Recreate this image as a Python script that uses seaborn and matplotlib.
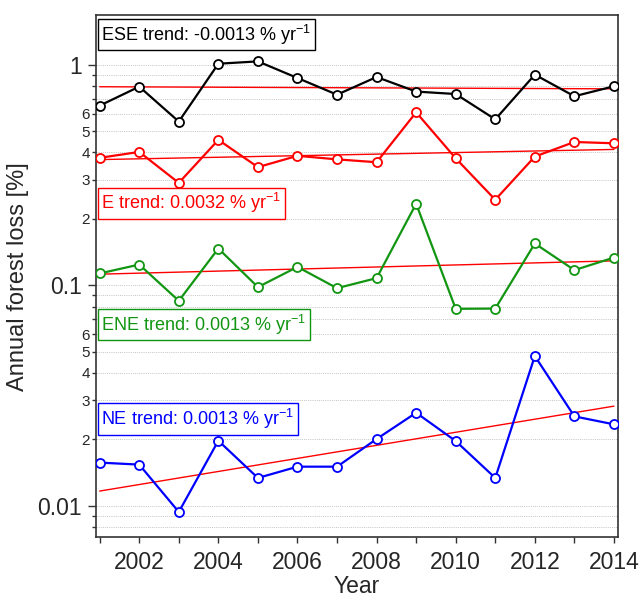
import numpy as np
import pandas as pd
import matplotlib
matplotlib.use("Agg")
import matplotlib.pyplot as plt
import matplotlib.ticker as mticker
import seaborn as sns

years = [2001, 2002, 2003, 2004, 2005, 2006, 2007, 2008, 2009, 2010, 2011, 2012, 2013, 2014]
ese = [0.652, 0.795, 0.552, 1.01, 1.035, 0.870, 0.731, 0.879, 0.755, 0.736, 0.565, 0.901, 0.719, 0.798]
e = [0.378, 0.402, 0.291, 0.456, 0.343, 0.386, 0.372, 0.361, 0.608, 0.376, 0.244, 0.383, 0.446, 0.440]
ene = [0.113, 0.124, 0.0849, 0.1466, 0.098, 0.121, 0.0969, 0.1076, 0.234, 0.0781, 0.0783, 0.1545, 0.117, 0.1334]
ne = [0.01567, 0.01535, 0.00936, 0.0197, 0.01335, 0.01502, 0.01502, 0.02005, 0.02638, 0.01963, 0.01335, 0.0477, 0.0254, 0.02337]

names = ["ESE", "E", "ENE", "NE"]
labels = ["ESE trend: -0.0013 % yr$^{-1}$", "E trend: 0.0032 % yr$^{-1}$",
          "ENE trend: 0.0013 % yr$^{-1}$", "NE trend: 0.0013 % yr$^{-1}$"]
colors = ["#000000", "#ff0000", "#129612", "#0000ff"]
label_y = [0.9625, 0.6394, 0.4077, 0.2270]

sns.set_style("ticks")
plt.rcParams["font.family"] = ["Liberation Sans", "DejaVu Sans"]
plt.rcParams["mathtext.fontset"] = "custom"
plt.rcParams["mathtext.rm"] = "Liberation Sans"
plt.rcParams["mathtext.it"] = "Liberation Sans:italic"
plt.rcParams["mathtext.default"] = "regular"

fig = plt.figure(figsize=(6.39, 6.0), dpi=100)
ax = fig.add_axes([0.1498, 0.1042, 0.8178, 0.8708])

series = [ese, e, ene, ne]
for name, vals, col, lab, ly in zip(names, series, colors, labels, label_y):
    df = pd.DataFrame({"Year": years, "loss": vals})
    # trend (linear fit, drawn between end years)
    coef = np.polyfit(years, vals, 1)
    ends = [years[0], years[-1]]
    tdf = pd.DataFrame({"Year": ends, "loss": np.polyval(coef, ends)})
    sns.lineplot(data=tdf, x="Year", y="loss", ax=ax, color="#ff0000", lw=1.0, zorder=2)
    sns.lineplot(data=df, x="Year", y="loss", ax=ax, color=col, lw=1.6, marker="o",
                 markersize=6.5, markerfacecolor="white", markeredgecolor=col,
                 markeredgewidth=1.3, zorder=3)
    ax.text(0.0105, ly, lab, transform=ax.transAxes, ha="left", va="center",
            fontsize=13.0, color=col,
            bbox=dict(boxstyle="square,pad=0.2", fc="white", ec=col, lw=1.0), zorder=5)

ax.set_yscale("log")
ax.set_ylim(0.00717, 1.68)
ax.set_xlim(2000.9, 2014.11)

ax.yaxis.set_major_locator(mticker.FixedLocator([0.01, 0.1, 1]))
ax.yaxis.set_major_formatter(mticker.FixedFormatter(["0.01", "0.1", "1"]))
ax.yaxis.set_minor_locator(mticker.LogLocator(base=10, subs=np.arange(2, 10), numticks=20))

def minor_fmt(v, pos):
    m = v / 10 ** np.floor(np.log10(v) + 1e-9)
    mi = int(round(m))
    return str(mi) if mi in (2, 3, 4, 5, 6) else ""

ax.yaxis.set_minor_formatter(mticker.FuncFormatter(minor_fmt))

ax.xaxis.set_major_locator(mticker.MultipleLocator(2))
ax.xaxis.set_minor_locator(mticker.MultipleLocator(1))
ax.xaxis.set_major_formatter(mticker.FormatStrFormatter("%d"))

ax.grid(True, which="both", axis="y", color="#c4c4c4", ls=(0, (1, 1.2)), lw=0.7)
ax.grid(False, axis="x")

for s in ax.spines.values():
    s.set_visible(True)
    s.set_color("#333333")
    s.set_linewidth(1.2)

ax.tick_params(axis="y", which="major", length=6, width=1, labelsize=16.5, pad=4, color="#333333")
ax.tick_params(axis="y", which="minor", length=3, width=1, labelsize=11, pad=1, color="#333333")
ax.tick_params(axis="x", which="both", length=4.5, width=1, labelsize=16.5, pad=5, color="#333333")

ax.set_xlabel("Year", fontsize=16.5, labelpad=1)
ax.set_ylabel("Annual forest loss [%]", fontsize=17, labelpad=6)

fig.savefig("out.png", dpi=100)
